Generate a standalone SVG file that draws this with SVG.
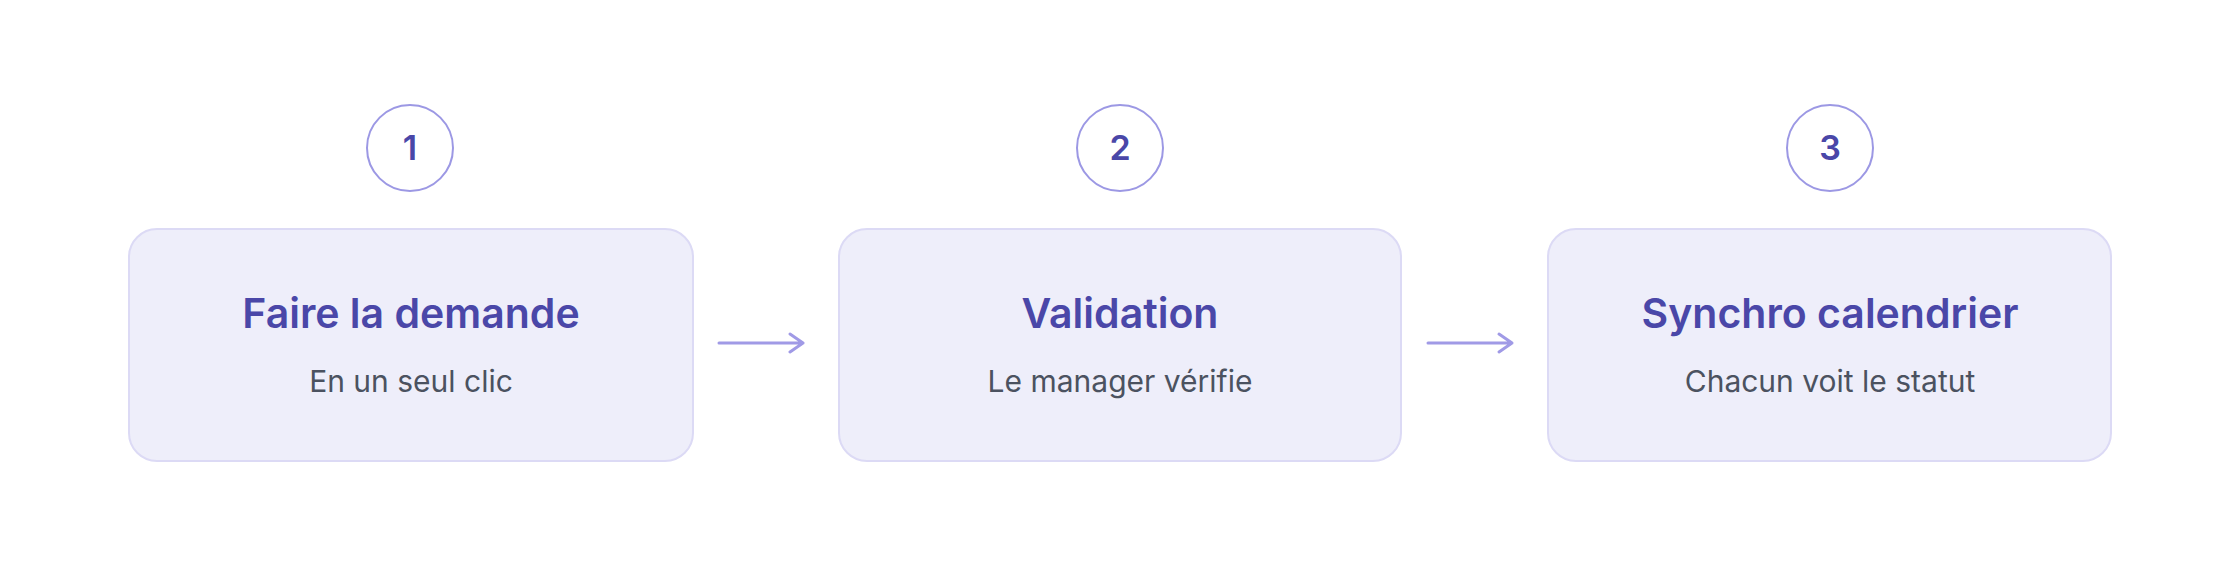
<svg xmlns="http://www.w3.org/2000/svg" width="2240" height="566" viewBox="0 0 2240 566">
  <defs>
    <style>
      .box { fill: #eeeefa; stroke: #dcdaf5; stroke-width: 2; }
      .badge { fill: #ffffff; stroke: #9c98e4; stroke-width: 2; }
      .num { font-family: Inter, "Noto Sans", sans-serif; font-weight: 600; font-size: 34px; fill: #4a47a8; text-anchor: middle; }
      .title { font-family: Inter, "Noto Sans", sans-serif; font-weight: 600; font-size: 41px; fill: #4a47a8; text-anchor: middle; }
      .sub { font-family: Inter, "Noto Sans", sans-serif; font-weight: 400; font-size: 30px; fill: #4b5260; text-anchor: middle; }
      .conn { stroke: #a09ae6; stroke-width: 3; fill: none; stroke-linecap: round; stroke-linejoin: round; }
    </style>
  </defs>
  <rect width="2240" height="566" fill="#ffffff"/>

  <g id="step1">
    <circle class="badge" cx="410" cy="148" r="43"/>
    <text class="num" x="410" y="160">1</text>
    <rect class="box" x="129" y="229" width="564" height="232" rx="28"/>
    <text class="title" x="411" y="328">Faire la demande</text>
    <text class="sub" x="411" y="392">En un seul clic</text>
  </g>

  <g id="step2">
    <circle class="badge" cx="1120" cy="148" r="43"/>
    <text class="num" x="1120" y="160">2</text>
    <rect class="box" x="839" y="229" width="562" height="232" rx="28"/>
    <text class="title" x="1120" y="328">Validation</text>
    <text class="sub" x="1120" y="392">Le manager vérifie</text>
  </g>

  <g id="step3">
    <circle class="badge" cx="1830" cy="148" r="43"/>
    <text class="num" x="1830" y="160">3</text>
    <rect class="box" x="1548" y="229" width="563" height="232" rx="28"/>
    <text class="title" x="1830" y="328">Synchro calendrier</text>
    <text class="sub" x="1830" y="392">Chacun voit le statut</text>
  </g>

  <g id="connectors">
    <path class="conn" d="M719 343 H803 M790 334 L803 343 L790 352"/>
    <path class="conn" d="M1428 343 H1512 M1499 334 L1512 343 L1499 352"/>
  </g>
</svg>
